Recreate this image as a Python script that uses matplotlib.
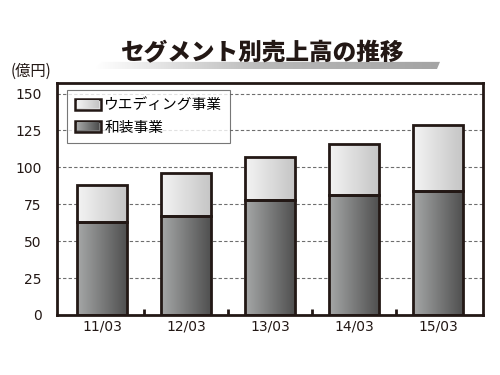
import numpy as np
import matplotlib
matplotlib.use("Agg")
import matplotlib.pyplot as plt
from matplotlib.patches import Polygon, Patch
from matplotlib.colors import LinearSegmentedColormap

plt.rcParams['font.family'] = ['Noto Sans CJK JP', 'DejaVu Sans']

categories = ["11/03", "12/03", "13/03", "14/03", "15/03"]
wafu = [63, 67, 78, 81, 84]
wedding = [25, 29, 29, 35, 45]
yticks = [0, 25, 50, 75, 100, 125, 150]
title = "セグメント別売上高の推移"
unit = "(億円)"
labels = ["ウエディング事業", "和装事業"]

edge = "#231815"
cmap_dark = LinearSegmentedColormap.from_list("d", ["#a6a8a8", "#4e4e4e"])
cmap_light = LinearSegmentedColormap.from_list("l", ["#f4f4f4", "#c4c4c4"])
grad = np.linspace(0, 1, 256).reshape(1, -1)

fig = plt.figure(figsize=(5, 3.75), dpi=100)
ax = fig.add_axes([0.114, 0.16, 0.852, 0.618])
x = np.arange(len(categories))
w = 0.6

def grad_bar(bars, cmap):
    for b in bars:
        x0, y0 = b.get_x(), b.get_y()
        bw, bh = b.get_width(), b.get_height()
        im = ax.imshow(grad, cmap=cmap, aspect='auto',
                       extent=[x0, x0 + bw, y0, y0 + bh], zorder=2)
        im.set_clip_path(b)

b1 = ax.bar(x, wafu, w, color='none', edgecolor=edge, linewidth=2, zorder=3)
b2 = ax.bar(x, wedding, w, bottom=wafu, color='none', edgecolor=edge, linewidth=2, zorder=3)
grad_bar(b1, cmap_dark)
grad_bar(b2, cmap_light)

numfont = dict(family='DejaVu Sans', size=10)
ax.set_xlim(-0.536, 4.536)
ax.set_ylim(0, 157)
ax.set_yticks(yticks)
ax.set_yticklabels([str(v) for v in yticks], fontdict=numfont, color="#231815")
ax.tick_params(axis='y', length=0, pad=11)
ax.set_xticks(x)
ax.set_xticklabels(categories, fontdict=numfont, color="#231815")
ax.tick_params(axis='x', length=0, pad=3)
ax.set_xticks(x[:-1] + 0.5, minor=True)
ax.tick_params(axis='x', which='minor', direction='in', length=4, width=2, color=edge)
ax.grid(axis='y', linestyle=(0, (3, 2)), color='#6e6e6e', linewidth=0.8, zorder=0)
ax.set_axisbelow(True)
for s in ax.spines.values():
    s.set_linewidth(2)
    s.set_color(edge)

# legend
handles = [Patch(facecolor='#dcdcdc', edgecolor=edge, linewidth=1.8),
           Patch(facecolor='#7a7a7a', edgecolor=edge, linewidth=1.8)]
leg = ax.legend(handles, labels, loc='upper left', bbox_to_anchor=(0.023, 0.97),
                fontsize=10.6, frameon=True, fancybox=False, edgecolor='#555555',
                handlelength=1.75, handleheight=0.8, borderpad=0.55, labelspacing=0.55,
                handletextpad=0.25, borderaxespad=0)
leg.get_frame().set_linewidth(0.8)
leg.set_zorder(5)

# overlay layer in figure coords
gax = fig.add_axes([0, 0, 1, 1], zorder=10)
gax.set_xlim(0, 1); gax.set_ylim(0, 1); gax.axis('off')

# gradient in legend handles
fig.canvas.draw()
inv = fig.transFigure.inverted()
for h, cm in zip(leg.legend_handles, [cmap_light, cmap_dark]):
    bb = h.get_window_extent().transformed(inv)
    pad = 0.004
    gax.imshow(grad, cmap=cm, aspect='auto',
               extent=[bb.x0 + pad, bb.x1 - pad, bb.y0 + pad * 1.3, bb.y1 - pad * 1.3], zorder=1)

# title underline
pts = [[0.204, 0.835], [0.88, 0.835], [0.874, 0.816], [0.19, 0.816]]
cmap_t = LinearSegmentedColormap.from_list("t", ["#ffffff", "#b8b8b8", "#a4a4a4"])
gax2 = fig.add_axes([0, 0, 1, 1], zorder=-1)
gax2.set_xlim(0, 1); gax2.set_ylim(0, 1); gax2.axis('off')
im = gax2.imshow(grad, cmap=cmap_t, aspect='auto', extent=[0.19, 0.88, 0.816, 0.835])
p2 = Polygon(pts, closed=True, transform=gax2.transData, facecolor='none', edgecolor='none')
gax2.add_patch(p2)
im.set_clip_path(p2)

fig.text(0.524, 0.859, title, fontsize=17, fontweight='heavy', ha='center', va='center', color='#231815')
fig.text(0.022, 0.81, unit, fontsize=11, ha='left', va='center', color='#231815')

fig.savefig("out.png", dpi=100, facecolor='white')
